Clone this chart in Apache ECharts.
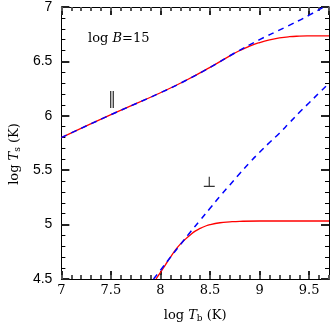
<!DOCTYPE html>
<html>
<head>
<meta charset="utf-8">
<script src="https://cdn.jsdelivr.net/npm/echarts@6/dist/echarts.min.js"></script>
<style>
    html,body{margin:0;padding:0;background:#fff;}
    #main{width:332px;height:328px;}
</style>
</head>
<body>
<div id="main"></div>
<script>
    // 刻度标签
    var xTicks = ['7', '7.5', '8', '8.5', '9', '9.5'];
    var yTicks = ['4.5', '5', '5.5', '6', '6.5', '7'];

    // 平行方向 ‖ （蓝色虚线 = 渐近线，红色实线）
    var parBlueX = [7.0, 7.5, 8.0, 8.25, 8.5, 8.75, 9.0, 9.25, 9.5, 9.7];
    var parBlueY = [5.80, 6.01, 6.212, 6.322, 6.445, 6.578, 6.70, 6.81, 6.925, 7.03];
    var parRedX = [7.0, 7.5, 8.0, 8.25, 8.5, 8.7, 8.8, 8.9, 9.0, 9.1, 9.2, 9.3, 9.4, 9.5, 9.7];
    var parRedY = [5.80, 6.01, 6.212, 6.322, 6.445, 6.551, 6.600, 6.641, 6.673, 6.698, 6.716, 6.727, 6.732, 6.734, 6.735];

    // 垂直方向 ⊥
    var perBlueX = [7.93, 8.0, 8.1, 8.2, 8.3, 8.4, 8.5, 8.6, 8.7, 8.8, 8.9, 9.0, 9.1, 9.2, 9.3, 9.4, 9.5, 9.6, 9.7];
    var perBlueY = [4.50, 4.58, 4.70, 4.815, 4.93, 5.04, 5.15, 5.26, 5.365, 5.47, 5.57, 5.665, 5.755, 5.84, 5.935, 6.03, 6.12, 6.21, 6.30];
    var perRedX = [7.955, 8.0, 8.05, 8.1, 8.15, 8.2, 8.25, 8.3, 8.35, 8.4, 8.45, 8.5, 8.6, 8.7, 8.8, 9.0, 9.7];
    var perRedY = [4.50, 4.56, 4.63, 4.70, 4.765, 4.82, 4.865, 4.905, 4.94, 4.965, 4.985, 5.0, 5.017, 5.025, 5.03, 5.033, 5.033];

    function pairs(xs, ys){
        var out = [];
        for (var i = 0; i < xs.length; i++) out.push([xs[i], ys[i]]);
        return out;
    }

    var serif = '"DejaVu Serif", "Liberation Serif", serif';
    var sans = '"Liberation Sans", Arial, sans-serif';

    // 横轴：主刻度 0.5，次刻度用单独的 0.1 轴（这样 9.6 也有刻度）
    function xAx(pos, interval, len, col, labels){
        return {
            type: 'value', min: 7, max: 9.7, interval: interval, position: pos,
            axisLine: {show: true, lineStyle: {color: '#000', width: 1}},
            axisTick: {show: true, inside: true, length: len, lineStyle: {color: col, width: 2}},
            axisLabel: labels ? {
                show: true, margin: 5, color: '#000', fontFamily: serif, fontSize: 13,
                showMaxLabel: false,
                formatter: function(v){ return xTicks.indexOf(String(v)) >= 0 ? String(v) : ''; }
            } : {show: false},
            splitLine: {show: false}
        };
    }
    // 纵轴：主刻度 0.5 + minorTick
    function yAx(pos, labels){
        return {
            type: 'value', min: 4.5, max: 7, interval: 0.5, position: pos,
            axisLine: {show: true, lineStyle: {color: '#000', width: 1}},
            axisTick: {show: true, inside: true, length: 8, lineStyle: {color: '#222', width: 2}},
            minorTick: {show: true, splitNumber: 5, length: 4, lineStyle: {color: '#000', width: 1}},
            axisLabel: labels ? {
                show: true, margin: 9, color: '#000', fontFamily: sans, fontSize: 14,
                formatter: function(v){ return yTicks.indexOf(String(v)) >= 0 ? String(v) : ''; }
            } : {show: false},
            splitLine: {show: false}
        };
    }

    var xMain = xAx('bottom', 0.5, 8, '#222', true);
    xMain.name = '{a|log }{i|T}{s|b}{a| (K)}';
    xMain.nameLocation = 'middle';
    xMain.nameGap = 29;
    xMain.nameTextStyle = {
        rich: {
            a: {fontFamily: serif, fontSize: 13, color: '#000'},
            i: {fontFamily: serif, fontSize: 13, fontStyle: 'italic', color: '#000'},
            s: {fontFamily: serif, fontSize: 9, color: '#000', padding: [6, 0, 0, 0]}
        }
    };
    var yMain = yAx('left', true);
    yMain.name = '{a|log }{i|T}{s|s}{a| (K)}';
    yMain.nameLocation = 'middle';
    yMain.nameGap = 36;
    yMain.nameTextStyle = {
        padding: [0, 22, 0, 0],
        rich: {
            a: {fontFamily: serif, fontSize: 13, color: '#000'},
            i: {fontFamily: serif, fontSize: 13, fontStyle: 'italic', color: '#000'},
            s: {fontFamily: serif, fontSize: 9, color: '#000', padding: [6, 0, 0, 0]}
        }
    };

    var myChart = echarts.init(document.getElementById('main'));
    var option = {
        animation: false,
        grid: {left: 46, right: 3, top: 7, bottom: 37},
        xAxis: [xMain, xAx('bottom', 0.1, 4, '#555', false), xAx('top', 0.5, 8, '#222', false), xAx('top', 0.1, 4, '#555', false)],
        yAxis: [yMain, yAx('right', false)],
        graphic: [
            {
                type: 'text', left: 88, top: 32,
                style: {
                    text: '{a|log }{i|B}{a|=15}',
                    rich: {
                        a: {fontFamily: serif, fontSize: 13, fill: '#000'},
                        i: {fontFamily: serif, fontSize: 13, fontStyle: 'italic', fill: '#000'}
                    }
                }
            },
            {
                type: 'text', left: 108, top: 92,
                style: {text: '\u2016', font: '16px ' + serif, fill: '#333'}
            },
            {
                type: 'text', left: 202, top: 176,
                style: {text: '\u22A5', font: '15px ' + serif, fill: '#333'}
            }
        ],
        series: [
            {
                name: 'par-red', type: 'line', showSymbol: false, smooth: true,
                lineStyle: {color: '#ff0000', width: 1.3},
                data: pairs(parRedX, parRedY), z: 2
            },
            {
                name: 'par-blue', type: 'line', showSymbol: false, smooth: true,
                lineStyle: {color: '#0000ff', width: 1.5, type: [6, 5]},
                data: pairs(parBlueX, parBlueY), z: 3
            },
            {
                name: 'per-red', type: 'line', showSymbol: false, smooth: true,
                lineStyle: {color: '#ff0000', width: 1.3},
                data: pairs(perRedX, perRedY), z: 2
            },
            {
                name: 'per-blue', type: 'line', showSymbol: false, smooth: true,
                lineStyle: {color: '#0000ff', width: 1.5, type: [6, 5]},
                data: pairs(perBlueX, perBlueY), z: 3
            }
        ]
    };
    myChart.setOption(option);
</script>
</body>
</html>
